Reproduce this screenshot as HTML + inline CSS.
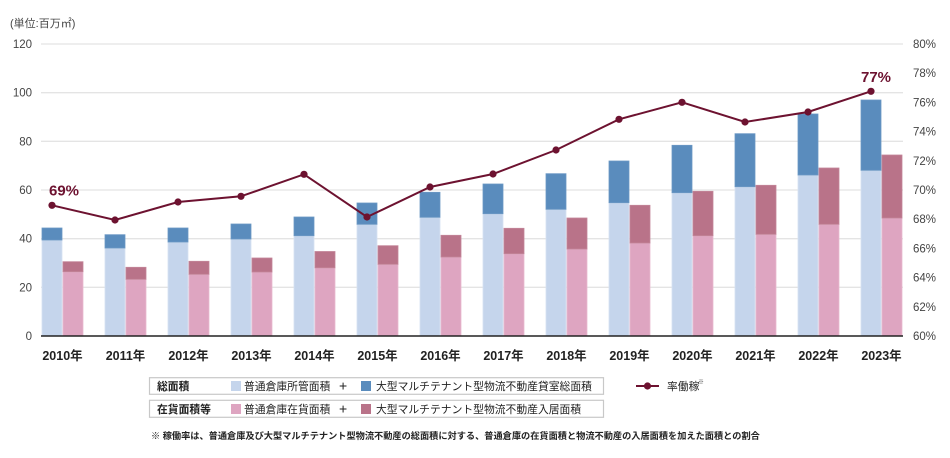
<!DOCTYPE html>
<html><head><meta charset="utf-8"><style>
html,body{margin:0;padding:0;background:#fff;}
svg{display:block;}
text{font-family:"Liberation Sans","Noto Sans CJK JP",sans-serif;}
</style></head><body>
<svg width="950" height="458" viewBox="0 0 950 458" xmlns="http://www.w3.org/2000/svg">
<text x="10" y="27" font-size="11" fill="#444">(単位:百万㎡)</text>
<g stroke="#e4e4e4" stroke-width="1.3">
<line x1="41" x2="903" y1="44" y2="44"/>
<line x1="41" x2="903" y1="92.7" y2="92.7"/>
<line x1="41" x2="903" y1="141.3" y2="141.3"/>
<line x1="41" x2="903" y1="190" y2="190"/>
<line x1="41" x2="903" y1="238.7" y2="238.7"/>
<line x1="41" x2="903" y1="287.3" y2="287.3"/>
</g>
<g font-size="11.5" fill="#444" text-anchor="end">
<text x="32" y="48">120</text>
<text x="32" y="96.7">100</text>
<text x="32" y="145.3">80</text>
<text x="32" y="194">60</text>
<text x="32" y="242.7">40</text>
<text x="32" y="291.3">20</text>
<text x="32" y="340">0</text>
</g>
<g font-size="11.5" fill="#444">
<text x="913" y="48">80%</text>
<text x="913" y="77.2">78%</text>
<text x="913" y="106.4">76%</text>
<text x="913" y="135.6">74%</text>
<text x="913" y="164.8">72%</text>
<text x="913" y="194">70%</text>
<text x="913" y="223.2">68%</text>
<text x="913" y="252.4">66%</text>
<text x="913" y="281.6">64%</text>
<text x="913" y="310.8">62%</text>
<text x="913" y="340">60%</text>
</g>
<g id="bars" stroke-width="0.8">
<!-- light blue, dark blue, light pink, dark pink -->
</g>
<g stroke-width="0.8">
<rect x="42" y="240" width="20" height="96" fill="#c5d5ec" stroke="#d5e1f2"/><rect x="42" y="228" width="20" height="12" fill="#5a8cbd" stroke="#6b98c4"/><rect x="63" y="271.7" width="20" height="64.3" fill="#dea5c1" stroke="#e8b9cf"/><rect x="63" y="261.7" width="20" height="10" fill="#b97389" stroke="#c48599"/>
<rect x="105" y="248" width="20" height="88" fill="#c5d5ec" stroke="#d5e1f2"/><rect x="105" y="234.7" width="20" height="13.3" fill="#5a8cbd" stroke="#6b98c4"/><rect x="126" y="279.3" width="20" height="56.7" fill="#dea5c1" stroke="#e8b9cf"/><rect x="126" y="267.3" width="20" height="12" fill="#b97389" stroke="#c48599"/>
<rect x="168" y="242" width="20" height="94" fill="#c5d5ec" stroke="#d5e1f2"/><rect x="168" y="228" width="20" height="14" fill="#5a8cbd" stroke="#6b98c4"/><rect x="189" y="274.3" width="20" height="61.7" fill="#dea5c1" stroke="#e8b9cf"/><rect x="189" y="261.3" width="20" height="13" fill="#b97389" stroke="#c48599"/>
<rect x="231" y="239" width="20" height="97" fill="#c5d5ec" stroke="#d5e1f2"/><rect x="231" y="224" width="20" height="15" fill="#5a8cbd" stroke="#6b98c4"/><rect x="252" y="272" width="20" height="64" fill="#dea5c1" stroke="#e8b9cf"/><rect x="252" y="258" width="20" height="14" fill="#b97389" stroke="#c48599"/>
<rect x="294" y="235.7" width="20" height="100.3" fill="#c5d5ec" stroke="#d5e1f2"/><rect x="294" y="217" width="20" height="18.7" fill="#5a8cbd" stroke="#6b98c4"/><rect x="315" y="267.8" width="20" height="68.2" fill="#dea5c1" stroke="#e8b9cf"/><rect x="315" y="251.5" width="20" height="16.3" fill="#b97389" stroke="#c48599"/>
<rect x="357" y="224.3" width="20" height="111.7" fill="#c5d5ec" stroke="#d5e1f2"/><rect x="357" y="203" width="20" height="21.3" fill="#5a8cbd" stroke="#6b98c4"/><rect x="378" y="264.3" width="20" height="71.7" fill="#dea5c1" stroke="#e8b9cf"/><rect x="378" y="245.7" width="20" height="18.6" fill="#b97389" stroke="#c48599"/>
<rect x="420" y="217.3" width="20" height="118.7" fill="#c5d5ec" stroke="#d5e1f2"/><rect x="420" y="192.3" width="20" height="25" fill="#5a8cbd" stroke="#6b98c4"/><rect x="441" y="257" width="20" height="79" fill="#dea5c1" stroke="#e8b9cf"/><rect x="441" y="235.3" width="20" height="21.7" fill="#b97389" stroke="#c48599"/>
<rect x="483" y="213.7" width="20" height="122.3" fill="#c5d5ec" stroke="#d5e1f2"/><rect x="483" y="184" width="20" height="29.7" fill="#5a8cbd" stroke="#6b98c4"/><rect x="504" y="253.7" width="20" height="82.3" fill="#dea5c1" stroke="#e8b9cf"/><rect x="504" y="228.3" width="20" height="25.4" fill="#b97389" stroke="#c48599"/>
<rect x="546" y="209.3" width="20" height="126.7" fill="#c5d5ec" stroke="#d5e1f2"/><rect x="546" y="173.7" width="20" height="35.6" fill="#5a8cbd" stroke="#6b98c4"/><rect x="567" y="249" width="20" height="87" fill="#dea5c1" stroke="#e8b9cf"/><rect x="567" y="218" width="20" height="31" fill="#b97389" stroke="#c48599"/>
<rect x="609" y="202.7" width="20" height="133.3" fill="#c5d5ec" stroke="#d5e1f2"/><rect x="609" y="161" width="20" height="41.7" fill="#5a8cbd" stroke="#6b98c4"/><rect x="630" y="243" width="20" height="93" fill="#dea5c1" stroke="#e8b9cf"/><rect x="630" y="205.3" width="20" height="37.7" fill="#b97389" stroke="#c48599"/>
<rect x="672" y="192.7" width="20" height="143.3" fill="#c5d5ec" stroke="#d5e1f2"/><rect x="672" y="145.3" width="20" height="47.4" fill="#5a8cbd" stroke="#6b98c4"/><rect x="693" y="235.7" width="20" height="100.3" fill="#dea5c1" stroke="#e8b9cf"/><rect x="693" y="191.3" width="20" height="44.4" fill="#b97389" stroke="#c48599"/>
<rect x="735" y="186.7" width="20" height="149.3" fill="#c5d5ec" stroke="#d5e1f2"/><rect x="735" y="133.7" width="20" height="53" fill="#5a8cbd" stroke="#6b98c4"/><rect x="756" y="234.3" width="20" height="101.7" fill="#dea5c1" stroke="#e8b9cf"/><rect x="756" y="185.3" width="20" height="49" fill="#b97389" stroke="#c48599"/>
<rect x="798" y="175" width="20" height="161" fill="#c5d5ec" stroke="#d5e1f2"/><rect x="798" y="114" width="20" height="61" fill="#5a8cbd" stroke="#6b98c4"/><rect x="819" y="224.3" width="20" height="111.7" fill="#dea5c1" stroke="#e8b9cf"/><rect x="819" y="168" width="20" height="56.3" fill="#b97389" stroke="#c48599"/>
<rect x="861" y="170.3" width="20" height="165.7" fill="#c5d5ec" stroke="#d5e1f2"/><rect x="861" y="100" width="20" height="70.3" fill="#5a8cbd" stroke="#6b98c4"/><rect x="882" y="218" width="20" height="118" fill="#dea5c1" stroke="#e8b9cf"/><rect x="882" y="155" width="20" height="63" fill="#b97389" stroke="#c48599"/>
</g>
<line x1="41" x2="903" y1="336" y2="336" stroke="#222" stroke-width="1.5"/>
<polyline fill="none" stroke="#6d1230" stroke-width="2" points="52,205.3 115,220 178,202 241,196.3 304,174.3 367,217 430,187 493,174 556,150 619,119.3 682,102.3 745,122 808,112 871,91.3"/>
<g fill="#6d1230">
<circle cx="52" cy="205.3" r="3.6"/><circle cx="115" cy="220" r="3.6"/><circle cx="178" cy="202" r="3.6"/><circle cx="241" cy="196.3" r="3.6"/><circle cx="304" cy="174.3" r="3.6"/><circle cx="367" cy="217" r="3.6"/><circle cx="430" cy="187" r="3.6"/><circle cx="493" cy="174" r="3.6"/><circle cx="556" cy="150" r="3.6"/><circle cx="619" cy="119.3" r="3.6"/><circle cx="682" cy="102.3" r="3.6"/><circle cx="745" cy="122" r="3.6"/><circle cx="808" cy="112" r="3.6"/><circle cx="871" cy="91.3" r="3.6"/>
</g>
<text x="49" y="195.5" font-size="15" font-weight="bold" fill="#6d1230">69%</text>
<text x="861" y="82" font-size="15" font-weight="bold" fill="#6d1230">77%</text>
<g font-size="12.5" font-weight="bold" fill="#222" text-anchor="middle">
<text x="62.5" y="360">2010年</text>
<text x="125.5" y="360">2011年</text>
<text x="188.5" y="360">2012年</text>
<text x="251.5" y="360">2013年</text>
<text x="314.5" y="360">2014年</text>
<text x="377.5" y="360">2015年</text>
<text x="440.5" y="360">2016年</text>
<text x="503.5" y="360">2017年</text>
<text x="566.5" y="360">2018年</text>
<text x="629.5" y="360">2019年</text>
<text x="692.5" y="360">2020年</text>
<text x="755.5" y="360">2021年</text>
<text x="818.5" y="360">2022年</text>
<text x="881.5" y="360">2023年</text>
</g>
<rect x="149.5" y="377.7" width="454" height="16.6" fill="#fff" stroke="#c8c8c8" stroke-width="1.2"/>
<rect x="149.5" y="400.3" width="454" height="17" fill="#fff" stroke="#c8c8c8" stroke-width="1.2"/>
<g font-size="10.8" fill="#222">
<text x="157" y="390" font-weight="bold">総面積</text>
<rect x="231" y="381" width="10" height="10" fill="#c5d5ec"/>
<text x="244" y="390">普通倉庫所管面積</text>
<text x="339" y="390.5" font-size="14">+</text>
<rect x="361" y="381" width="10" height="10" fill="#5a8cbd"/>
<text x="376" y="390">大型マルチテナント型物流不動産貸室総面積</text>
<text x="157" y="413" font-weight="bold">在貨面積等</text>
<rect x="231" y="404" width="10" height="10" fill="#dea5c1"/>
<text x="244" y="413">普通倉庫在貨面積</text>
<text x="339" y="413.5" font-size="14">+</text>
<rect x="361" y="404" width="10" height="10" fill="#b97389"/>
<text x="376" y="413">大型マルチテナント型物流不動産入居面積</text>
</g>
<line x1="636" x2="659" y1="386" y2="386" stroke="#6d1230" stroke-width="2"/>
<circle cx="647.5" cy="386" r="3.6" fill="#6d1230"/>
<text x="667" y="390" font-size="10.8" fill="#222">率働稼</text>
<text x="698" y="384" font-size="6" fill="#444">※</text>
<text x="151" y="439" font-size="9.2" font-weight="bold" fill="#222">※ 稼働率は、普通倉庫及び大型マルチテナント型物流不動産の総面積に対する、普通倉庫の在貨面積と物流不動産の入居面積を加えた面積との割合</text>
</svg>
</body></html>
